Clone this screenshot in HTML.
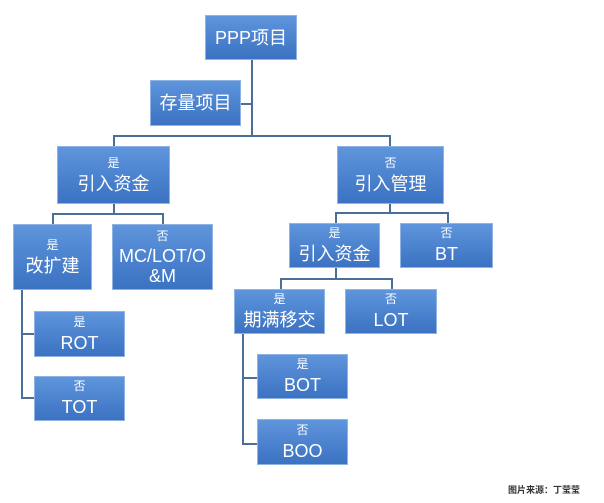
<!DOCTYPE html>
<html><head><meta charset="utf-8"><style>
body{margin:0;width:604px;height:503px;background:#fff;position:relative;overflow:hidden;font-family:"Liberation Sans","Noto Sans CJK SC",sans-serif}
.b{position:absolute;box-sizing:border-box;background:linear-gradient(#5f95dc,#3b72c2);border:1px solid #8fb3e3;color:#fff;text-align:center;display:flex;flex-direction:column;justify-content:center;align-items:center}
.s{font-size:12px;line-height:14px}
.s + .l{margin-top:3px}
.l{font-size:18px;line-height:22px}
.h,.v{position:absolute;background:#4c6f98}
.h{height:2px}.v{width:2px}
</style></head><body>
<div class="v" style="left:251px;top:60px;height:77px"></div>
<div class="h" style="left:241px;top:103px;width:11px"></div>
<div class="h" style="left:113px;top:135px;width:278px"></div>
<div class="v" style="left:113px;top:135px;height:12px"></div>
<div class="v" style="left:389px;top:135px;height:12px"></div>
<div class="v" style="left:113px;top:204px;height:10px"></div>
<div class="h" style="left:52px;top:213px;width:112px"></div>
<div class="v" style="left:52px;top:213px;height:11px"></div>
<div class="v" style="left:162px;top:213px;height:11px"></div>
<div class="v" style="left:21px;top:290px;height:109px"></div>
<div class="h" style="left:21px;top:333px;width:13px"></div>
<div class="h" style="left:21px;top:397px;width:13px"></div>
<div class="v" style="left:389px;top:204px;height:9px"></div>
<div class="h" style="left:335px;top:212px;width:114px"></div>
<div class="v" style="left:335px;top:212px;height:11px"></div>
<div class="v" style="left:447px;top:212px;height:11px"></div>
<div class="v" style="left:335px;top:268px;height:11px"></div>
<div class="h" style="left:280px;top:278px;width:113px"></div>
<div class="v" style="left:280px;top:278px;height:11px"></div>
<div class="v" style="left:391px;top:278px;height:11px"></div>
<div class="v" style="left:242px;top:334px;height:111px"></div>
<div class="h" style="left:242px;top:377px;width:15px"></div>
<div class="h" style="left:242px;top:443px;width:15px"></div>

<div class="b" style="left:205px;top:15px;width:92px;height:45px"><div class="l">PPP项目</div></div>
<div class="b" style="left:150px;top:80px;width:91px;height:46px"><div class="l">存量项目</div></div>
<div class="b" style="left:57px;top:146px;width:113px;height:58px"><div class="s">是</div><div class="l">引入资金</div></div>
<div class="b" style="left:337px;top:146px;width:107px;height:58px"><div class="s">否</div><div class="l">引入管理</div></div>
<div class="b" style="left:13px;top:224px;width:79px;height:66px"><div class="s">是</div><div class="l">改扩建</div></div>
<div class="b" style="left:112px;top:224px;width:101px;height:66px"><div class="s">否</div><div class="l" style="line-height:20px">MC/LOT/O<br>&amp;M</div></div>
<div class="b" style="left:34px;top:311px;width:91px;height:46px"><div class="s">是</div><div class="l">ROT</div></div>
<div class="b" style="left:34px;top:376px;width:91px;height:45px"><div class="s">否</div><div class="l">TOT</div></div>
<div class="b" style="left:289px;top:223px;width:91px;height:45px"><div class="s">是</div><div class="l">引入资金</div></div>
<div class="b" style="left:400px;top:223px;width:93px;height:45px"><div class="s">否</div><div class="l">BT</div></div>
<div class="b" style="left:234px;top:289px;width:91px;height:45px"><div class="s">是</div><div class="l">期满移交</div></div>
<div class="b" style="left:345px;top:289px;width:92px;height:45px"><div class="s">否</div><div class="l">LOT</div></div>
<div class="b" style="left:257px;top:354px;width:91px;height:45px"><div class="s">是</div><div class="l">BOT</div></div>
<div class="b" style="left:257px;top:419px;width:91px;height:46px"><div class="s">否</div><div class="l">BOO</div></div>
<div style="position:absolute;left:508px;top:483px;font-size:9px;color:#333;font-weight:bold;white-space:nowrap">图片来源：丁莹莹</div>
</body></html>
